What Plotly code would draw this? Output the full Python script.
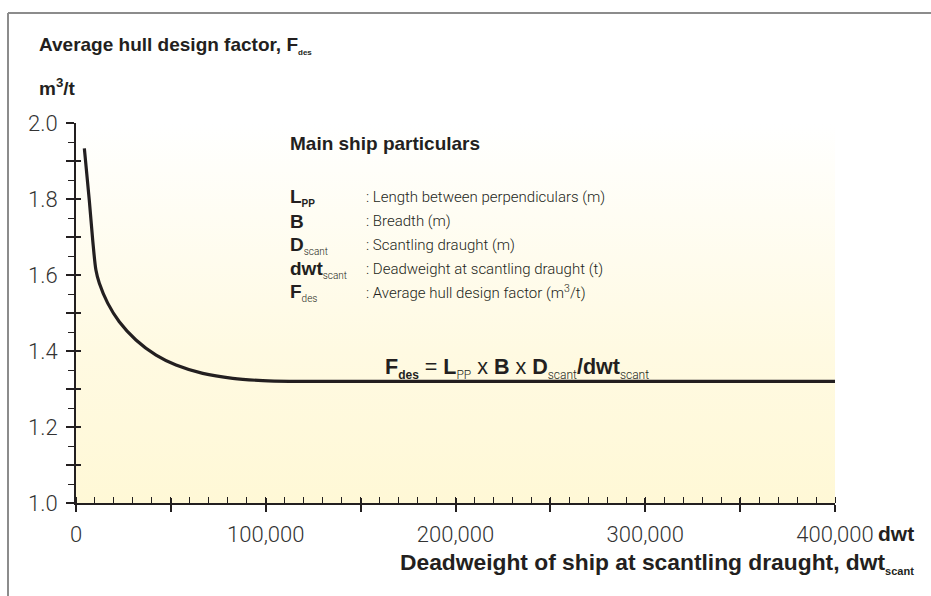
import plotly.graph_objects as go

# Average hull design factor curve.
dwt = [4400, 7000, 8800, 10500, 12300, 16700, 22800, 31600, 42200, 52700,
       66800, 82600, 98400, 112400, 400000]
f_des = [1.933, 1.797, 1.692, 1.613, 1.578, 1.526, 1.477, 1.429, 1.389, 1.363,
         1.341, 1.328, 1.322, 1.320, 1.320]

X_RANGE = [0, 400000]
Y_RANGE = [1.0, 2.0]

particulars = [
    ("L", "PP", ": Length between perpendiculars (m)"),
    ("B", "", ": Breadth (m)"),
    ("D", "scant", ": Scantling draught (m)"),
    ("dwt", "scant", ": Deadweight at scantling draught (t)"),
    ("F", "des", ": Average hull design factor (m<sup>3</sup>/t)"),
]

W, H = 931, 596
L, R, T, B = 76, 835, 123, 503  # plot area in pixels

INK = "#231f20"
BOLD = "Liberation Sans"
LIGHT = "Roboto"


def px(x):
    return (x - L) / (R - L)


def py(y):
    return (B - y) / (B - T)


def sub(s, size=10, light=False):
    if not s:
        return ""
    style = f"font-size:{size}px"
    if light:
        style += f";font-family:{LIGHT};font-weight:300"
    return f"<sub><span style='{style}'>{s}</span></sub>"


fig = go.Figure()

# gradient background of the plot area
fig.add_scatter(
    x=[X_RANGE[0], X_RANGE[1], X_RANGE[1], X_RANGE[0]],
    y=[Y_RANGE[0], Y_RANGE[0], Y_RANGE[1], Y_RANGE[1]],
    fill="toself", mode="none", hoverinfo="skip", showlegend=False,
    fillgradient=dict(type="vertical",
                      colorscale=[[0, "#fff8d6"], [0.4, "#fffae2"], [1, "#ffffff"]]),
)
fig.add_scatter(x=dwt, y=f_des, mode="lines",
                line=dict(color=INK, width=3.2, shape="spline", smoothing=0.8),
                showlegend=False)
# dummy trace so the overlay axes (inner half of the major ticks) get drawn
fig.add_scatter(x=[None], y=[None], xaxis="x2", yaxis="y2", showlegend=False, hoverinfo="skip")

tickfont = dict(family=LIGHT, size=22, color="#333333", weight=300)

fig.update_layout(
    width=W, height=H,
    margin=dict(l=L, r=W - R, t=T, b=H - B),
    paper_bgcolor="white", plot_bgcolor="white",
    font=dict(family=BOLD, color=INK),
    xaxis=dict(range=X_RANGE, showgrid=False, zeroline=False, showline=True,
               linecolor=INK, linewidth=2, ticks="outside", ticklen=7, tickwidth=2,
               tickcolor=INK, dtick=50000, tick0=0, ticklabelstep=2, tickformat=",d",
               tickfont=tickfont, ticklabelstandoff=4,
               minor=dict(ticks="inside", dtick=10000, ticklen=6, tickwidth=1, tickcolor=INK)),
    yaxis=dict(range=Y_RANGE, showgrid=False, zeroline=False, showline=True,
               linecolor=INK, linewidth=2, ticks="outside", ticklen=8, tickwidth=2,
               tickcolor=INK, dtick=0.1, tick0=1.0, ticklabelstep=2, tickformat=".1f",
               tickfont=tickfont, ticklabelstandoff=4,
               minor=dict(ticks="outside", dtick=0.05, ticklen=6, tickwidth=1, tickcolor=INK)),
    xaxis2=dict(range=X_RANGE, overlaying="x", anchor="y", side="bottom", showgrid=False,
                zeroline=False, showline=False, ticks="inside", ticklen=5, tickwidth=2,
                tickcolor=INK, dtick=50000, tick0=0, showticklabels=False),
    yaxis2=dict(range=Y_RANGE, overlaying="y", anchor="x", side="left", showgrid=False,
                zeroline=False, showline=False, ticks="inside", ticklen=5, tickwidth=2,
                tickcolor=INK, dtick=0.1, tick0=1.0, showticklabels=False),
)

# frame lines
frame = dict(type="line", xref="paper", yref="paper", line=dict(color="#8c8c8c", width=2))
fig.add_shape(x0=px(8), x1=px(W), y0=py(13), y1=py(13), **frame)
fig.add_shape(x0=px(8), x1=px(8), y0=py(13), y1=py(H), **frame)


def note(x, y, text, size=18, anchor="left", family=BOLD, weight=None):
    f = dict(family=family, size=size, color=INK)
    if weight:
        f["weight"] = weight
    fig.add_annotation(x=px(x), y=py(y), xref="paper", yref="paper", text=text,
                       showarrow=False, xanchor=anchor, yanchor="middle", font=f)


note(37, 45, f"<b>Average hull design factor, F{sub('des', 8)}</b>", size=19)
note(37, 87, "<b>m<sup>3</sup>/t</b>", size=19)
note(288, 143, "<b>Main ship particulars</b>", size=19)

row_y = [197, 221, 245, 269, 292]
for (sym, s, desc), y in zip(particulars, row_y):
    label = f"<b>{sym}{sub(s)}</b>" if sym == "L" else f"<b>{sym}</b>{sub(s, light=True)}"
    note(288, y, label, size=19)
    note(364, y, desc, size=15, family=LIGHT, weight=300)

formula = (f"<b>F{sub('des', 12)}</b> = <b>L</b>{sub('PP', 12, True)} x <b>B</b> x "
           f"<b>D</b>{sub('scant', 12, True)}<b>/dwt</b>{sub('scant', 12, True)}")
note(383, 368, formula, size=21.5)

note(916, 533, "<b>dwt</b>", size=21, anchor="right")
note(916, 563, f"<b>Deadweight of ship at scantling draught, dwt{sub('scant', 11)}</b>",
     size=22.8, anchor="right")

fig.write_html("out.html", config={"displayModeBar": False},
               post_script="document.body.style.margin='0';")
